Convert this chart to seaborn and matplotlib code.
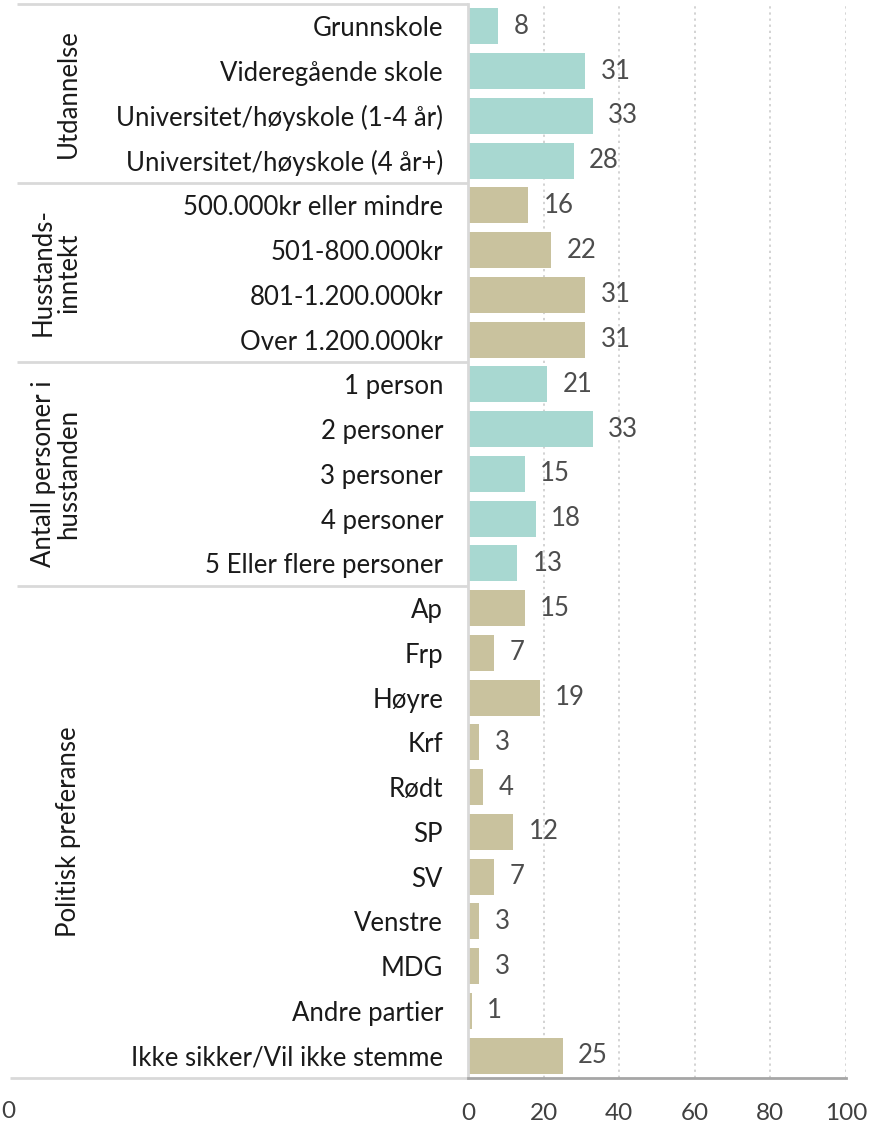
import matplotlib
matplotlib.use("Agg")
import matplotlib.pyplot as plt
import matplotlib.transforms as mtransforms
import seaborn as sns
import pandas as pd

# ---- data ----
categories = [
    "Grunnskole", "Videregående skole", "Universitet/høyskole (1-4 år)",
    "Universitet/høyskole (4 år+)",
    "500.000kr eller mindre", "501-800.000kr", "801-1.200.000kr", "Over 1.200.000kr",
    "1 person", "2 personer", "3 personer", "4 personer", "5 Eller flere personer",
    "Ap", "Frp", "Høyre", "Krf", "Rødt", "SP", "SV", "Venstre", "MDG",
    "Andre partier", "Ikke sikker/Vil ikke stemme",
]
values = [8, 31, 33, 28,
          16, 22, 31, 31,
          21, 33, 15, 18, 13,
          15, 7, 19, 3, 4, 12, 7, 3, 3, 1, 25]
groups = ["Utdannelse", "Husstands-\ninntekt", "Antall personer i\nhusstanden",
          "Politisk preferanse"]
group_sizes = [4, 4, 5, 11]
group_colors = ["teal", "tan", "teal", "tan"]
x_ticks = [0, 20, 40, 60, 80, 100]

palette = {"teal": "#A8D8D1", "tan": "#C9C29E"}

rows_group = []
rows_color = []
for g, n, c in zip(groups, group_sizes, group_colors):
    rows_group += [g] * n
    rows_color += [c] * n
df = pd.DataFrame({"kategori": categories, "verdi": values,
                   "gruppe": rows_group, "farge": rows_color})

sns.set_theme(style="white")
plt.rcParams["font.family"] = ["Lato", "DejaVu Sans"]

W, H = 882, 1131
fig = plt.figure(figsize=(W / 100, H / 100), dpi=100)
left_px, right_px, top_px, bot_px = 468, 846, 4, 1078
ax = fig.add_axes([left_px / W, 1 - bot_px / H, (right_px - left_px) / W,
                   (bot_px - top_px) / H])

sns.barplot(data=df, x="verdi", y="kategori", hue="farge", palette=palette,
            order=categories, dodge=False, legend=False, orient="h",
            width=0.8, linewidth=0, saturation=1, ax=ax)

ax.set_xlim(0, 100)
ax.set_ylim(len(categories) - 0.5, -0.5)
ax.set_xticks(x_ticks)
ax.set_xlabel("")
ax.set_ylabel("")
ax.xaxis.grid(True, linestyle=(0, (1.5, 2.5)), color="#C8C8C8", linewidth=1.1)
ax.yaxis.grid(False)
ax.set_axisbelow(True)
ax.tick_params(axis="x", length=0, pad=18, labelsize=17.5, labelcolor="#404040")
ax.tick_params(axis="y", length=0, pad=18, labelsize=18.5, labelcolor="#1a1a1a")

for s in ["top", "right"]:
    ax.spines[s].set_visible(False)
ax.spines["left"].set_color("#D9D9D9")
ax.spines["left"].set_linewidth(2)
ax.spines["bottom"].set_color("#A6A6A6")
ax.spines["bottom"].set_linewidth(2)

# value labels
for i, v in enumerate(values):
    ax.annotate(str(v), xy=(v, i), xytext=(11, 0), textcoords="offset points",
                ha="left", va="center", fontsize=18.5, color="#4d4d4d")

# table lines on the left (x in figure coords, y in data coords)
trans = mtransforms.blended_transform_factory(fig.transFigure, ax.transData)
bounds = [-0.5]
acc = -0.5
for n in group_sizes:
    acc += n
    bounds.append(acc)
for b in bounds[:-1]:
    ax.plot([17 / W, left_px / W], [b, b], transform=trans, color="#D9D9D9",
            linewidth=2, clip_on=False, solid_capstyle="butt")
ax.plot([10 / W, left_px / W], [bounds[-1], bounds[-1]], transform=trans,
        color="#D9D9D9", linewidth=2, clip_on=False, solid_capstyle="butt")

# group labels
for g, lo, hi in zip(groups, bounds[:-1], bounds[1:]):
    ax.text(81 / W, (lo + hi) / 2, g, transform=trans, rotation=90,
            ha="right", va="center", fontsize=18.5, color="#1a1a1a",
            linespacing=1.0, multialignment="center")

# stray zero at bottom-left as in the reference
fig.text(1 / W, 1 - 1111 / H, "0", ha="left", va="center", fontsize=17.5,
         color="#404040")

fig.savefig("out.png", dpi=100)
